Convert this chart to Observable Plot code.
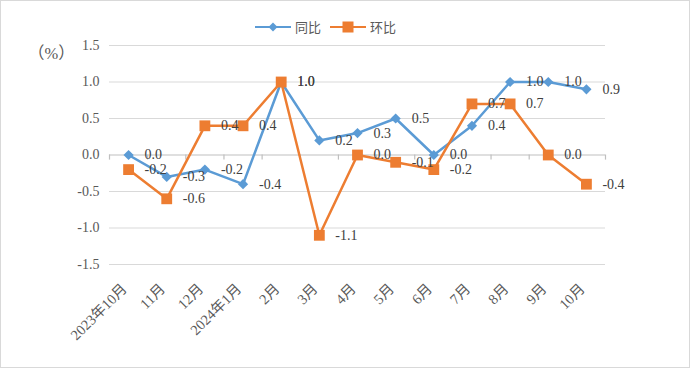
<!DOCTYPE html>
<html><head><meta charset="utf-8">
<script src="https://cdn.jsdelivr.net/npm/d3@7"></script>
<script src="https://cdn.jsdelivr.net/npm/@observablehq/plot@0.6"></script>
<style>
body{margin:0;background:#fff;}
#wrap{position:relative;width:700px;height:370px;overflow:hidden;}
#frame{position:absolute;left:0;top:0;width:688px;height:366px;border:1px solid #d9d9d9;}
#legend{position:absolute;top:17px;left:255px;display:flex;align-items:center;font:13px "Liberation Serif","Noto Sans CJK SC",serif;color:#595959;}
#legend .item{display:flex;align-items:center;margin-right:9px;}
#legend svg{margin-right:4px;}
#unit{position:absolute;left:28px;top:40px;font:16.5px "Liberation Serif","Noto Sans CJK SC",serif;color:#595959;}
#chart{position:absolute;left:0;top:0;}
#chart svg text{font-family:"Liberation Serif","Noto Sans CJK SC",serif;}
</style></head>
<body>
<div id="wrap">
<div id="frame"></div>
<div id="chart"></div>
<div id="unit">（%）</div>
<div id="legend">
 <div class="item"><svg width="36" height="12"><line x1="0" y1="6" x2="36" y2="6" stroke="#5B9BD5" stroke-width="2"/><path d="M18 1.5 L22.5 6 L18 10.5 L13.5 6Z" fill="#5B9BD5"/></svg><span>同比</span></div>
 <div class="item"><svg width="36" height="12"><line x1="0" y1="6" x2="36" y2="6" stroke="#ED7D31" stroke-width="2"/><rect x="12.5" y="0.5" width="11" height="11" fill="#ED7D31"/></svg><span>环比</span></div>
</div>
</div>
<script>
const months = ["2023年10月","11月","12月","2024年1月","2月","3月","4月","5月","6月","7月","8月","9月","10月"];
const yoy = [0.0,-0.3,-0.2,-0.4,1.0,0.2,0.3,0.5,0.0,0.4,1.0,1.0,0.9];
const mom = [-0.2,-0.6,0.4,0.4,1.0,-1.1,0.0,-0.1,-0.2,0.7,0.7,0.0,-0.4];
const yTicks = [-1.5,-1.0,-0.5,0.0,0.5,1.0,1.5];

const idx = months.map((_,i)=>i);
const yoyData = idx.map(i=>({i, v:yoy[i]}));
const momData = idx.map(i=>({i, v:mom[i]}));
const bounds = d3.range(months.length+1).map(i=>i-0.5);
const fmt = d=>d.toFixed(1);
const font = '"Liberation Serif","Noto Sans CJK SC",serif';

const chart = Plot.plot({
  width:700, height:370,
  marginLeft:109, marginRight:95, marginTop:45, marginBottom:106,
  style:{fontFamily:font, fontSize:"14px", color:"#595959", background:"transparent", overflow:"visible"},
  x:{domain:[-0.5, months.length-0.5]},
  y:{domain:[-1.5,1.5]},
  marks:[
    Plot.ruleY(yTicks.filter(t=>t!==0), {stroke:"#d9d9d9", strokeWidth:1.2}),
    Plot.axisY({ticks:yTicks, tickFormat:fmt, tickSize:0, tickPadding:10, label:null, fontSize:14, fontFamily:font}),
    Plot.ruleY([0], {stroke:"#bfbfbf", strokeWidth:1.2}),
    Plot.ruleX(bounds, {y1:0, y2:-0.07, stroke:"#bfbfbf", strokeWidth:1.2}),
    Plot.axisX({ticks:idx, tickFormat:i=>months[i], tickSize:0, tickPadding:22, dx:-4, tickRotate:-45, label:null, fontSize:14.5, fontFamily:font}),
    Plot.line(yoyData, {x:"i", y:"v", stroke:"#5B9BD5", strokeWidth:2.5}),
    Plot.dot(yoyData, {x:"i", y:"v", symbol:"diamond2", r:4.6, fill:"#5B9BD5", stroke:null}),
    Plot.line(momData, {x:"i", y:"v", stroke:"#ED7D31", strokeWidth:2.5}),
    Plot.dot(momData, {x:"i", y:"v", symbol:"square", r:6.1, fill:"#ED7D31", stroke:null}),
    Plot.text(yoyData, {x:"i", y:"v", text:d=>fmt(d.v), dx:16, textAnchor:"start", fill:"#404040", fontSize:14, fontFamily:font}),
    Plot.text(momData, {x:"i", y:"v", text:d=>fmt(d.v), dx:16, textAnchor:"start", fill:"#404040", fontSize:14, fontFamily:font})
  ]
});
document.getElementById("chart").appendChild(chart);
</script>
</body></html>
